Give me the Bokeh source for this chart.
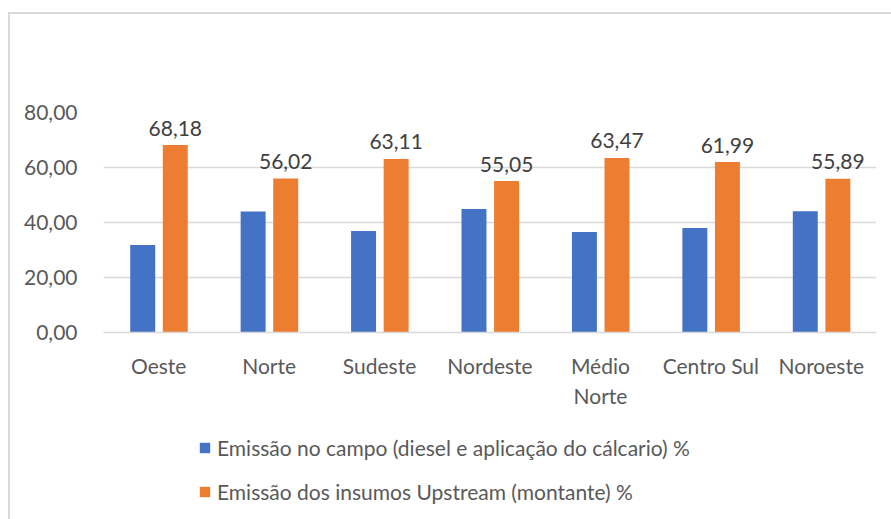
from bokeh.plotting import figure
from bokeh.layouts import column
from bokeh.models import ColumnDataSource, FixedTicker, Legend, LegendItem, Range1d
from bokeh.transform import dodge
from bokeh.core.properties import value
from bokeh.embed import file_html
from bokeh.resources import INLINE

regions = ["Oeste", "Norte", "Sudeste", "Nordeste", "Médio\nNorte", "Centro Sul", "Noroeste"]
campo = [31.82, 43.98, 36.89, 44.95, 36.53, 38.01, 44.11]
upstream = [68.18, 56.02, 63.11, 55.05, 63.47, 61.99, 55.89]
upstream_labels = ["68,18", "56,02", "63,11", "55,05", "63,47", "61,99", "55,89"]
y_ticks = [0, 20, 40, 60, 80]
y_tick_labels = ["0,00", "20,00", "40,00", "60,00", "80,00"]
series_names = ["Emissão no campo (diesel e aplicação do cálcario) %",
                "Emissão dos insumos Upstream (montante) %"]
colors = ["#4472C4", "#ED7D31"]

FONT = "Lato"
TXT = "#595959"

src = ColumnDataSource(dict(x=regions, campo=campo, up=upstream, lab=upstream_labels))

p = figure(x_range=regions, y_range=(0, 80), width=881, height=398,
           output_backend="svg", toolbar_location=None,
           min_border_left=93, min_border_right=15, min_border_top=98, min_border_bottom=80)
p.outline_line_color = None
p.border_fill_color = "white"

p.vbar(x=dodge("x", -0.145, range=p.x_range), top="campo", width=0.226, source=src,
       fill_color=colors[0], line_color=None)
p.vbar(x=dodge("x", 0.15, range=p.x_range), top="up", width=0.226, source=src,
       fill_color=colors[1], line_color=None)
p.text(x=dodge("x", 0.15, range=p.x_range), y="up", text="lab", source=src,
       text_align="center", text_baseline="alphabetic", y_offset=-17,
       text_font=value(FONT), text_font_size="21px", text_color="#404040")

p.xgrid.grid_line_color = None
p.ygrid.grid_line_color = "#d9d9d9"
p.ygrid.grid_line_width = 1.5
p.yaxis.ticker = FixedTicker(ticks=y_ticks)
p.yaxis.major_label_overrides = {t: l for t, l in zip(y_ticks, y_tick_labels)}
for ax in (p.xaxis[0], p.yaxis[0]):
    ax.major_tick_line_color = None
    ax.minor_tick_line_color = None
    ax.major_label_text_font = FONT
    ax.major_label_text_font_size = "21px"
    ax.major_label_text_color = TXT
p.yaxis.axis_line_color = None
p.yaxis.major_label_standoff = 20
p.xaxis.axis_line_color = "#d9d9d9"
p.xaxis.axis_line_width = 1.5
p.xaxis.major_label_standoff = 14

# legend panel
p2 = figure(width=881, height=107, output_backend="svg", toolbar_location=None,
            x_axis_type=None, y_axis_type=None, min_border=0,
            x_range=Range1d(0, 1), y_range=Range1d(0, 1))
p2.outline_line_color = None
p2.border_fill_color = "white"
d1 = p2.vbar(x=[-10], top=[-10], bottom=[-11], width=1, fill_color=colors[0], line_color=None)
d2 = p2.vbar(x=[-10], top=[-10], bottom=[-11], width=1, fill_color=colors[1], line_color=None)
legend = Legend(items=[LegendItem(label=series_names[0], renderers=[d1]),
                       LegendItem(label=series_names[1], renderers=[d2])],
                location=(95, 6), orientation="vertical",
                glyph_width=13, glyph_height=13, label_standoff=6,
                label_height=44, spacing=0, padding=0, margin=0,
                border_line_color=None, background_fill_alpha=0,
                label_text_font=FONT, label_text_font_size="21px", label_text_color=TXT)
p2.add_layout(legend)

layout = column(p, p2, spacing=0, margin=(12, 0, 0, 8),
                styles={"border-top": "2px solid #d9d9d9", "border-left": "2px solid #d9d9d9"})

open("out.html", "w").write(file_html(layout, INLINE))
